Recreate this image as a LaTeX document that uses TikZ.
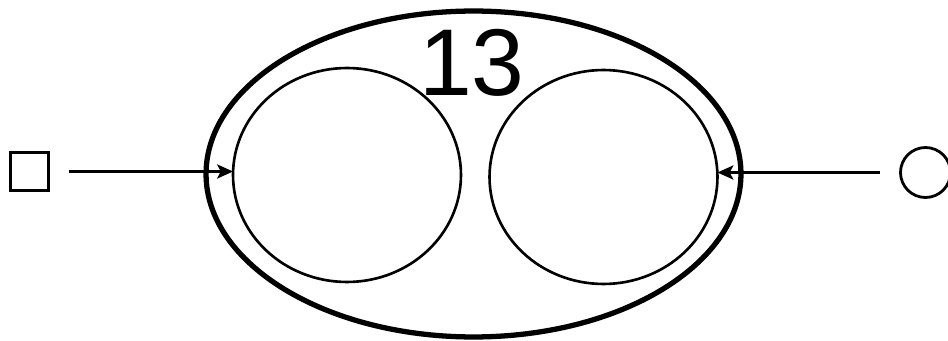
\documentclass[tikz,border=0pt]{standalone}
\usepackage{fontspec}
\setmainfont{Liberation Sans}
\usetikzlibrary{shapes.geometric,arrows.meta}

\begin{document}
\begin{tikzpicture}[x=0.02cm,y=-0.02cm,
  shell/.style={draw,ellipse,line width=3pt,inner sep=0pt,outer sep=0pt},
  cell/.style={draw,ellipse,line width=1.5pt,inner sep=0pt,outer sep=0pt},
  feed/.style={line width=1.6pt,-{Stealth[length=9pt,width=8pt,inset=2pt]}}]
\useasboundingbox (0,0) rectangle (948,341);
% outer shell and the two cells
\node[shell,minimum width=10.7cm,minimum height=6.52cm] (shell) at (473.5,174) {};
\node[cell,minimum width=4.56cm,minimum height=4.28cm] (cellL) at (347,175) {};
\node[cell,minimum width=4.56cm,minimum height=4.28cm] (cellR) at (603.5,177) {};
\node[font=\fontsize{54}{54}\selectfont,inner sep=0pt] (num) at (472,63) {13};
% square and circle
\node[draw,line width=1.6pt,minimum size=0.76cm,inner sep=0pt] (sq) at (29.5,171.5) {};
\node[draw,circle,line width=1.6pt,minimum size=1.0cm,inner sep=0pt] (circ) at (925.5,172.5) {};
\draw[feed,shorten <=0.38cm] (sq.east) -- (sq.east -| cellL.west);
\draw[feed,shorten <=0.38cm] (circ.west) -- (circ.west -| cellR.east);
\end{tikzpicture}
\end{document}
